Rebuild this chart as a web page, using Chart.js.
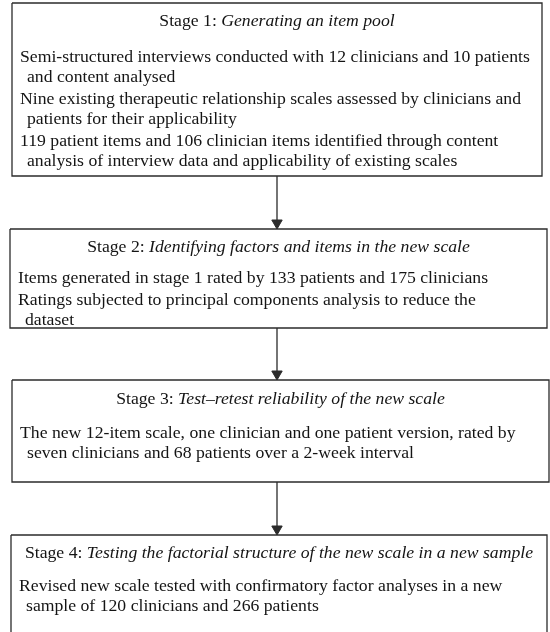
<!DOCTYPE html>
<html>
<head>
<meta charset="utf-8">
<script src="https://cdn.jsdelivr.net/npm/chart.js@4.4.1/dist/chart.umd.min.js"></script>
<style>
  html, body { margin: 0; padding: 0; background: #fff; }
  canvas { display: block; }
</style>
</head>
<body>
<canvas id="flow" width="550" height="632"></canvas>
<script>
/* ==========================================
   Stage flow chart (four boxes, three arrows)
========================================== */

const stageNumbers = [1, 2, 3, 4];
const stageTitles = [
  "Generating an item pool",
  "Identifying factors and items in the new scale",
  "Test\u2013retest reliability of the new scale",
  "Testing the factorial structure of the new scale in a new sample",
];

// each entry is one item; the inner array holds its wrapped lines
const stage1Items = [
  ["Semi-structured interviews conducted with 12 clinicians and 10 patients", "and content analysed"],
  ["Nine existing therapeutic relationship scales assessed by clinicians and", "patients for their applicability"],
  ["119 patient items and 106 clinician items identified through content", "analysis of interview data and applicability of existing scales"],
];
const stage2Items = [
  ["Items generated in stage 1 rated by 133 patients and 175 clinicians"],
  ["Ratings subjected to principal components analysis to reduce the", "dataset"],
];
const stage3Items = [
  ["The new 12-item scale, one clinician and one patient version, rated by", "seven clinicians and 68 patients over a 2-week interval"],
];
const stage4Items = [
  ["Revised new scale tested with confirmatory factor analyses in a new", "sample of 120 clinicians and 266 patients"],
];
const stageItems = [stage1Items, stage2Items, stage3Items, stage4Items];

// layout (canvas units, y grows downward)
const boxLeft = [12, 10, 12, 11];
const boxRight = [542, 547, 549, 547];
const boxTop = [3, 229, 380, 535];
const boxBottom = [176, 328, 482, 650];
const titleBase = [26, 252, 404, 558];
const firstBase = [62, 283, 438, 591];
const WRAP_STEP = 20;
const ITEM_STEP = 22;
const FONT_PX = 17.7;
const FONT_FAMILY = '"Liberation Serif", "Times New Roman", Times, serif';
const ARROW_X = 277;
const HEAD_R = 6;

const LINE_COLOR = "#2b2b2b";
const TEXT_COLOR = "#141414";

function boxDataset(i) {
  const l = boxLeft[i], r = boxRight[i], t = boxTop[i], b = boxBottom[i];
  return {
    type: "line",
    data: [{ x: l, y: t }, { x: r, y: t }, { x: r, y: b }, { x: l, y: b }, { x: l, y: t }],
    borderColor: LINE_COLOR,
    borderWidth: 1.3,
    pointRadius: 0,
    fill: false,
    tension: 0,
  };
}

function arrowDataset(i) {
  const from = boxBottom[i];
  const tip = boxTop[i + 1];
  return {
    type: "line",
    data: [{ x: ARROW_X, y: from }, { x: ARROW_X, y: tip - HEAD_R * 1.5 }],
    borderColor: LINE_COLOR,
    borderWidth: 1.3,
    pointRadius: 0,
    fill: false,
  };
}

function headDataset() {
  return {
    type: "scatter",
    data: boxTop.slice(1).map((t) => ({ x: ARROW_X, y: t - HEAD_R })),
    pointStyle: "triangle",
    rotation: 180,
    pointRadius: HEAD_R,
    pointBackgroundColor: LINE_COLOR,
    pointBorderColor: LINE_COLOR,
    pointBorderWidth: 1,
  };
}

const textPlugin = {
  id: "stageText",
  afterDatasetsDraw(chart) {
    const { ctx, scales } = chart;
    const px = (v) => scales.x.getPixelForValue(v);
    const py = (v) => scales.y.getPixelForValue(v);
    ctx.save();
    ctx.fillStyle = TEXT_COLOR;
    ctx.textBaseline = "alphabetic";
    ctx.textAlign = "left";

    stageNumbers.forEach((num, i) => {
      // title: "Stage n: " upright + italic subtitle, centred on the box
      const head = `Stage ${num}: `;
      ctx.font = `${FONT_PX}px ${FONT_FAMILY}`;
      const w1 = ctx.measureText(head).width;
      ctx.font = `italic ${FONT_PX}px ${FONT_FAMILY}`;
      const w2 = ctx.measureText(stageTitles[i]).width;
      const cx = px((boxLeft[i] + boxRight[i]) / 2);
      const start = cx - (w1 + w2) / 2;
      ctx.font = `${FONT_PX}px ${FONT_FAMILY}`;
      ctx.fillText(head, start, py(titleBase[i]));
      ctx.font = `italic ${FONT_PX}px ${FONT_FAMILY}`;
      ctx.fillText(stageTitles[i], start + w1, py(titleBase[i]));

      // body items with hanging indent
      ctx.font = `${FONT_PX}px ${FONT_FAMILY}`;
      let y = firstBase[i];
      stageItems[i].forEach((lines, k) => {
        if (k > 0) y += ITEM_STEP;
        lines.forEach((line, j) => {
          if (j > 0) y += WRAP_STEP;
          const x = boxLeft[i] + (j === 0 ? 8 : 15);
          ctx.fillText(line, px(x), py(y));
        });
      });
    });
    ctx.restore();
  },
};

const datasets = [
  ...stageNumbers.map((_, i) => boxDataset(i)),
  ...stageNumbers.slice(1).map((_, i) => arrowDataset(i)),
  headDataset(),
];

new Chart(document.getElementById("flow"), {
  type: "scatter",
  data: { datasets },
  options: {
    responsive: false,
    devicePixelRatio: 1,
    animation: false,
    layout: { padding: 0, autoPadding: false },
    clip: false,
    plugins: { legend: { display: false }, tooltip: { enabled: false } },
    scales: {
      x: { type: "linear", min: 0, max: 550, display: false },
      y: { type: "linear", min: 0, max: 632, reverse: true, display: false },
    },
  },
  plugins: [textPlugin],
});
</script>
</body>
</html>
